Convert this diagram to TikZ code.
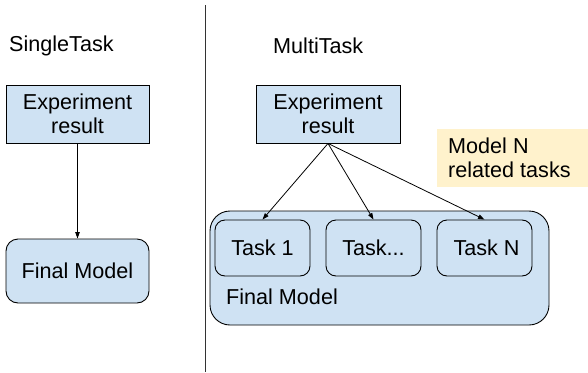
\documentclass[tikz,border=0pt]{standalone}
\usepackage{fontspec}
\setmainfont{Liberation Sans}
\usetikzlibrary{arrows.meta}
\definecolor{boxblue}{HTML}{CFE2F3}
\definecolor{noteyellow}{HTML}{FFF2CC}
\definecolor{linegray}{HTML}{333333}
\tikzset{
  txt/.style={font=\fontsize{21.6}{24.5}\selectfont, inner sep=0pt, align=center},
  box/.style={txt, draw=black, fill=boxblue, line width=0.9pt},
  roundbox/.style={box, rounded corners=12pt},
  taskbox/.style={box, rounded corners=10pt, minimum width=95pt, minimum height=56pt},
  arr/.style={draw=black, line width=0.8pt, -{Triangle[length=6.5pt,width=4.5pt]}},
}
\begin{document}
\begin{tikzpicture}[x=1pt,y=-1pt]
  \useasboundingbox (0,0) rectangle (588,372);

  % divider between the two variants
  \draw[linegray, line width=1pt] (205,5) -- (205,372);

  % single-task variant
  \node[txt, anchor=west] (st) at (9,46) {SingleTask};
  \node[box, minimum width=143pt, minimum height=58pt] (e1) at (77.5,114) {Experiment\\result};
  \node[roundbox, minimum width=143pt, minimum height=64pt] (f1) at (77.5,271) {Final Model};
  \draw[arr] (e1.south) -- (f1.north);

  % multi-task variant
  \node[txt, anchor=west] (mt) at (273,46) {MultiTask};
  \node[box, minimum width=144pt, minimum height=58pt] (e2) at (328,114) {Experiment\\result};
  \node[fill=noteyellow, minimum width=151pt, minimum height=58pt, inner sep=0pt] (note) at (512.5,158) {};
  \node[txt, align=left, anchor=west] (notetxt) at (448,158) {Model N\\related tasks};

  \node[box, rounded corners=20pt, minimum width=339pt, minimum height=114pt] (f2) at (379.5,268) {};
  \node[txt, anchor=west] (f2lbl) at (226,297) {Final Model};
  \node[taskbox] (t1) at (262.5,248) {Task 1};
  \node[taskbox] (t2) at (373.5,248) {Task...};
  \node[taskbox] (t3) at (484.5,248) {\hspace{4pt}Task N};

  \draw[arr] (e2.south) -- (t1.north);
  \draw[arr] (e2.south) -- (t2.north);
  \draw[arr] (e2.south) -- (t3.north);
\end{tikzpicture}
\end{document}
